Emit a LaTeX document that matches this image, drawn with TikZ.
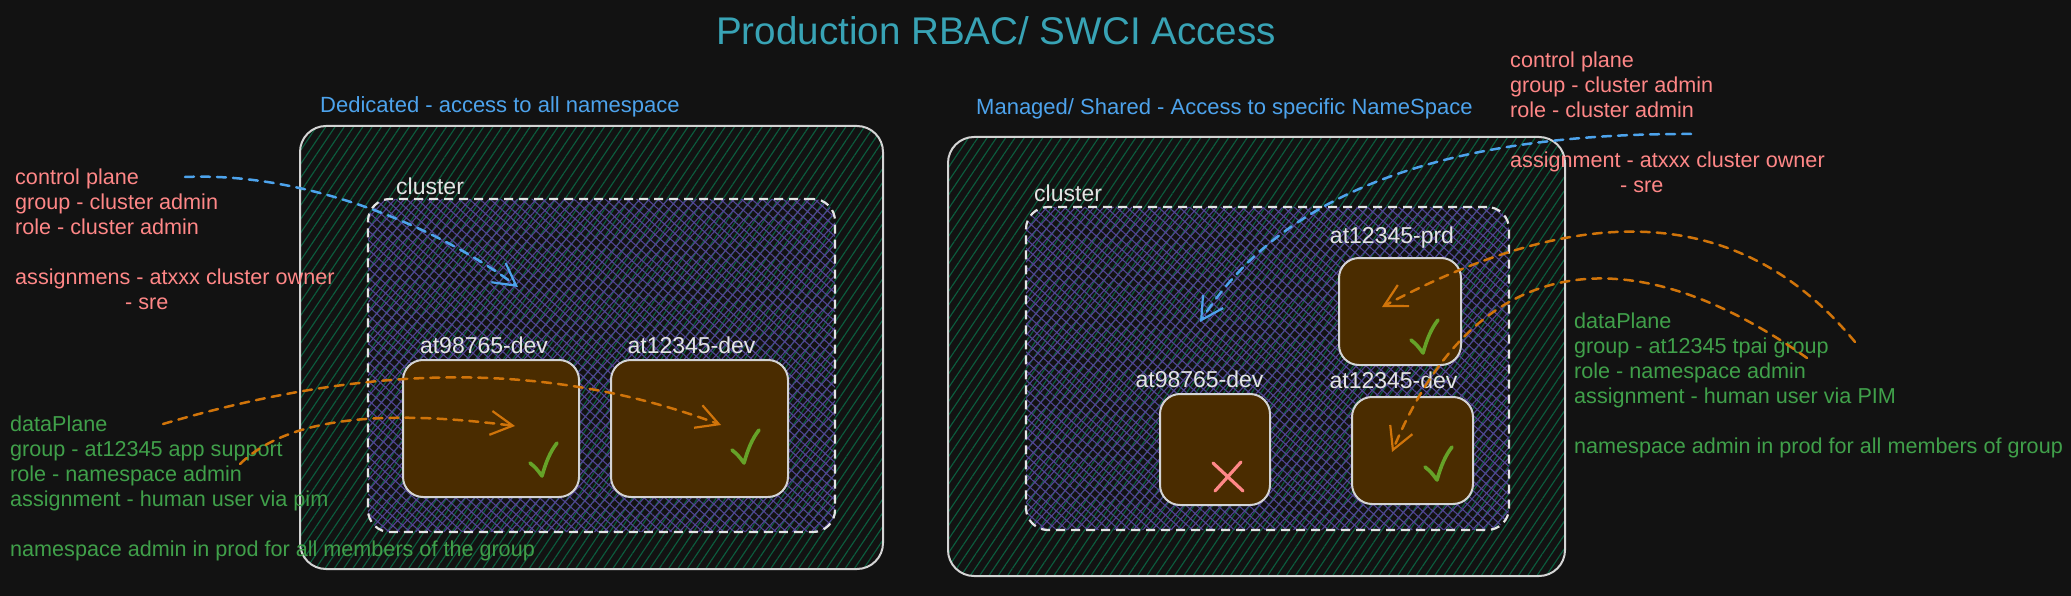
\documentclass[tikz,border=0pt]{standalone}
\usepackage{fontspec}
\setmainfont{Liberation Sans}
\usetikzlibrary{patterns.meta,arrows.meta}
\definecolor{bgc}{HTML}{121212}
\definecolor{boxline}{HTML}{D4D4D4}
\definecolor{hatchgreen}{RGB}{12,92,62}
\definecolor{hatchpurple}{RGB}{82,68,146}
\definecolor{nsbrown}{RGB}{74,44,0}
\definecolor{titlec}{RGB}{56,163,181}
\definecolor{redt}{HTML}{FF8787}
\definecolor{greent}{RGB}{64,160,74}
\definecolor{bluet}{RGB}{77,163,236}
\definecolor{whitet}{HTML}{E4E4E4}
\definecolor{orangec}{RGB}{208,116,10}
\definecolor{checkc}{RGB}{102,162,40}
\begin{document}
\begin{tikzpicture}[x=1pt,y=-1pt,
  outerbox/.style={draw=boxline, line width=2pt, rounded corners=26pt, inner sep=0pt,
    pattern={Lines[angle=56,distance=7.7pt,line width=1.15pt]}, pattern color=hatchgreen},
  clusterbox/.style={draw=whitet, line width=2.2pt, dash pattern=on 9pt off 6pt, rounded corners=22pt, inner sep=0pt,
    pattern={Hatch[angle=48,distance=7pt,line width=1.1pt]}, pattern color=hatchpurple},
  nsbox/.style={draw=boxline, line width=2pt, fill=nsbrown, rounded corners=20pt, inner sep=0pt},
  body/.style={inner sep=0pt, font=\fontsize{21.6}{25}\selectfont, align=left},
  redtxt/.style={body, text=redt},
  greentxt/.style={body, text=greent},
  bluetxt/.style={inner sep=0pt, anchor=base west, text=bluet, font=\fontsize{22}{26}\selectfont},
  whitelbl/.style={inner sep=0pt, anchor=base, text=whitet, font=\fontsize{23}{27}\selectfont},
  bluearrow/.style={draw=bluet, line width=2.5pt, dash pattern=on 9pt off 7pt, line cap=round,
    -{Straight Barb[length=22pt,width=24pt,line width=2.2pt]}},
  orangearrow/.style={draw=orangec, line width=2.5pt, dash pattern=on 9pt off 7pt, line cap=round,
    -{Straight Barb[length=22pt,width=24pt,line width=2.2pt]}},
  checkmark/.pic={\draw[checkc, line width=3.6pt, line cap=round, line join=round]
    (-12,-13) .. controls (-6,-8) .. (0,0) .. controls (4,-14) and (8,-24) .. (15,-33);},
]
\fill[bgc] (0,0) rectangle (2071,596);
\useasboundingbox (0,0) rectangle (2071,596);

% title
\node[inner sep=0pt, anchor=base, text=titlec, font=\fontsize{38.6}{44}\selectfont] (title) at (996,45) {Production RBAC/ SWCI Access};

% section headings
\node[bluetxt] (hdL) at (320,113) {Dedicated - access to all namespace};
\node[bluetxt] (hdR) at (976,115) {Managed/ Shared - Access to specific NameSpace};

% outer boxes
\node[outerbox, minimum width=583pt, minimum height=443pt] (dedicated) at (591.5,347.5) {};
\node[outerbox, minimum width=617pt, minimum height=439pt] (managed) at (1256.5,356.5) {};

% clusters
\node[clusterbox, minimum width=467pt, minimum height=333pt] (clL) at (601.5,365.5) {};
\node[clusterbox, minimum width=483pt, minimum height=323pt] (clR) at (1267.5,368.5) {};
\node[whitelbl, anchor=base west] (clLlbl) at (396,195) {cluster};
\node[whitelbl, anchor=base west] (clRlbl) at (1034,202) {cluster};

% namespaces
\node[nsbox, minimum width=176pt, minimum height=137pt] (nsL1) at (491,428.5) {};
\node[nsbox, minimum width=177pt, minimum height=137pt] (nsL2) at (699.5,428.5) {};
\node[nsbox, minimum width=122pt, minimum height=107pt] (nsPrd) at (1400,311.5) {};
\node[nsbox, minimum width=110pt, minimum height=111pt] (nsR1) at (1215,449.5) {};
\node[nsbox, minimum width=121pt, minimum height=107pt] (nsR2) at (1412.5,450.5) {};

\node[whitelbl] (lL1) at (484,353) {at98765-dev};
\node[whitelbl] (lL2) at (691.5,353) {at12345-dev};
\node[whitelbl] (lPrd) at (1392,243) {at12345-prd};
\node[whitelbl] (lR1) at (1199.5,387) {at98765-dev};
\node[whitelbl] (lR2) at (1393.5,388) {at12345-dev};

% check marks and cross
\pic at (542,476) {checkmark};
\pic at (744,463) {checkmark};
\pic at (1423,353) {checkmark};
\pic at (1437,480) {checkmark};
\draw[redt, line width=3.2pt, line cap=round] (1213,463) -- (1243,491) (1241,462) -- (1215,491);

% text blocks
\node[redtxt, anchor=north west] (cpL) at (15,166.5) {\strut control plane\\ group - cluster admin\\ role - cluster admin\\[25pt] assignmens - atxxx cluster owner\\ \hspace*{110pt}- sre};
\node[redtxt, anchor=north west] (cpR) at (1510,49.5) {\strut control plane\\ group - cluster admin\\ role - cluster admin\\[25pt] assignment - atxxx cluster owner\\ \hspace*{110pt}- sre};
\node[greentxt, anchor=north west] (dpL) at (10,413.5) {\strut dataPlane\\ group - at12345 app support\\ role - namespace admin\\ assignment - human user via pim\\[25pt] namespace admin in prod for all members of the group};
\node[greentxt, anchor=north west] (dpR) at (1574,310.5) {\strut dataPlane\\ group - at12345 tpai group\\ role - namespace admin\\ assignment - human user via PIM\\[25pt] namespace admin in prod for all members of group};

% connector end points
\coordinate (bLs) at (185,177);
\coordinate (bLe) at (518,287);
\coordinate (bRs) at (1691,134);
\coordinate (bRe) at (1200,322);
\coordinate (oAs) at (163,424);
\coordinate (oAe) at (721,425);
\coordinate (oBs) at (240,464);
\coordinate (oBe) at (515,426);
\coordinate (oCs) at (1855,342);
\coordinate (oCe) at (1382,307);
\coordinate (oDs) at (1807,358);
\coordinate (oDe) at (1392,452);

\draw[bluearrow] (bLs) .. controls (300,172) and (430,222) .. (bLe);
\draw[bluearrow] (bRs) .. controls (1420,133) and (1275,205) .. (bRe);
\draw[orangearrow] (oAs) .. controls (330,375) and (520,350) .. (oAe);
\draw[orangearrow] (oBs) .. controls (290,415) and (390,410) .. (oBe);
\draw[orangearrow] (oCs) .. controls (1730,190) and (1560,212) .. (oCe);
\draw[orangearrow] (oDs) .. controls (1640,240) and (1480,240) .. (oDe);
\end{tikzpicture}
\end{document}
